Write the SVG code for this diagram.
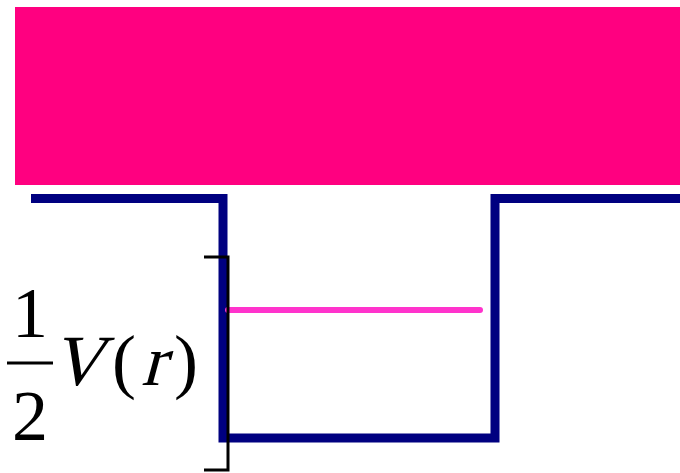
<svg xmlns="http://www.w3.org/2000/svg" width="680" height="473" viewBox="0 0 680 473">
<style>
.well{fill:none;stroke:#000080;stroke-width:9}
</style>
<rect x="0" y="0" width="680" height="473" fill="#fff"/>
<g id="band"><rect x="15" y="7" width="665" height="178" fill="#FF0080"/></g>
<g id="connectors">
<polyline class="well" points="31,198.5 223,198.5 223,438 495,438 495,198.5 680,198.5"/>
<line x1="228" y1="310" x2="480" y2="310" stroke="#FF33CC" stroke-width="6" stroke-linecap="round"/>
<polyline points="204,257 228,257 228,470 204,470" fill="none" stroke="#000" stroke-width="3"/>
</g>
<g id="label" font-family="Liberation Serif" fill="#000">
<text transform="translate(30,337) scale(1.8)" font-size="40" text-anchor="middle">1</text>
<line x1="7" y1="363" x2="53" y2="363" stroke="#000" stroke-width="3"/>
<text transform="translate(30,440) scale(1.8)" font-size="40" text-anchor="middle">2</text>
<text transform="translate(51,385) skewX(-15)" font-size="72">V</text>
<text x="112" y="385" font-size="72">(</text>
<text transform="translate(141,385) skewX(-15)" font-size="72">r</text>
<text x="174" y="385" font-size="72">)</text>
</g>
</svg>
